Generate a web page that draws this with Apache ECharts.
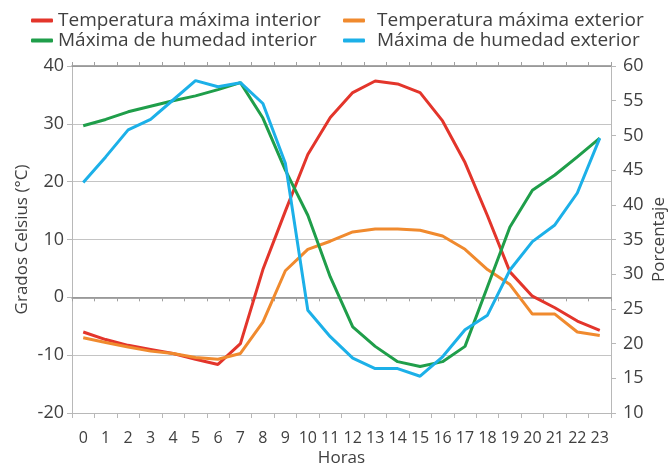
<!DOCTYPE html>
<html>
<head>
<meta charset="utf-8">
<script src="https://cdn.jsdelivr.net/npm/echarts@6/dist/echarts.min.js"></script>
<style>
html,body{margin:0;padding:0;background:#fff;}
#c{width:668px;height:465px;}
</style>
</head>
<body>
<div id="c"></div>
<script>
var hours = ['0','1','2','3','4','5','6','7','8','9','10','11','12','13','14','15','16','17','18','19','20','21','22','23'];
var leftTicks = [-20,-10,0,10,20,30,40];
var rightTicks = [10,15,20,25,30,35,40,45,50,55,60];
var tempInterior = [-6.0,-7.3,-8.3,-9.0,-9.7,-10.7,-11.6,-8.0,4.8,14.9,24.7,31.1,35.4,37.4,36.9,35.4,30.5,23.3,14.1,4.4,0.2,-1.8,-4.1,-5.7];
var tempExterior = [-7.0,-7.8,-8.6,-9.3,-9.7,-10.4,-10.7,-9.7,-4.3,4.6,8.3,9.7,11.3,11.8,11.8,11.6,10.6,8.3,4.8,2.2,-2.9,-2.9,-6.0,-6.6];
var humInterior = [51.4,52.3,53.4,54.2,55.0,55.7,56.6,57.6,52.5,45.0,38.5,29.6,22.4,19.6,17.4,16.7,17.4,19.6,28.2,36.8,42.1,44.3,46.9,49.6];
var humExterior = [43.2,46.9,50.8,52.3,55.1,57.9,57.0,57.6,54.6,46.0,24.8,21.0,17.9,16.4,16.4,15.3,18.1,22.0,24.1,30.6,34.7,37.1,41.7,49.6];
var names = ['Temperatura máxima interior','Temperatura máxima exterior','Máxima de humedad interior','Máxima de humedad exterior'];
var colors = ['#e3352b','#f08a2e','#1f9e4a','#1cb0e8'];

var font = "'Open Sans', sans-serif";
var txt = '#404040';
var chart = echarts.init(document.getElementById('c'));

function leg(i, left, top, pad){
  return {
    data:[names[i]], left:left, top:top, itemWidth:22, itemHeight:4, icon:'roundRect',
    textStyle:{fontFamily:font,fontSize:19,color:txt,padding:[0,0,0,pad]}, padding:0
  };
}

chart.setOption({
  animation:false,
  legend:[leg(0,31,11,0), leg(1,343,11,7), leg(2,31,31,0), leg(3,343,31,7)],
  grid:{left:72,right:57,top:66,bottom:52,containLabel:false,outerBoundsMode:'none'},
  xAxis:[
    {type:'category',data:hours,boundaryGap:true,position:'bottom',
     name:'Horas',nameLocation:'middle',nameGap:37,nameMoveOverlap:false,
     nameTextStyle:{fontFamily:font,fontSize:17,color:txt},
     axisLine:{onZero:false,lineStyle:{color:'#b8b8b8',width:1}},
     axisTick:{show:true,length:5,alignWithLabel:false,lineStyle:{color:'#b8b8b8'}},
     axisLabel:{fontFamily:font,fontSize:16,color:txt,margin:17,interval:0},
     splitLine:{show:false}},
    {type:'category',data:hours,boundaryGap:true,
     axisLine:{onZero:true,lineStyle:{color:'#8a8a8a',width:1.5}},
     axisTick:{show:true,length:4,inside:true,lineStyle:{color:'#a0a0a0'}},
     axisLabel:{show:false},splitLine:{show:false}},
    {type:'category',data:hours,boundaryGap:true,
     axisLine:{onZero:true,lineStyle:{color:'#8a8a8a',width:1.5}},
     axisTick:{show:true,length:4,inside:false,lineStyle:{color:'#a0a0a0'}},
     axisLabel:{show:false},splitLine:{show:false}}
  ],
  yAxis:[
    {type:'value',min:leftTicks[0],max:leftTicks[leftTicks.length-1],interval:10,position:'left',
     name:'Grados Celsius (°C)',nameLocation:'middle',nameRotate:90,nameGap:41,nameMoveOverlap:false,
     nameTextStyle:{fontFamily:font,fontSize:17,color:txt},
     axisLine:{show:true,lineStyle:{color:'#b8b8b8'}},
     axisTick:{show:true,length:5,lineStyle:{color:'#b8b8b8'}},
     axisLabel:{fontFamily:font,fontSize:18,color:txt,margin:8},
     splitLine:{show:true,lineStyle:{color:'#c4c4c4',width:1.2}}},
    {type:'value',min:rightTicks[0],max:rightTicks[rightTicks.length-1],interval:5,position:'right',
     name:'Porcentaje',nameLocation:'middle',nameRotate:90,nameGap:40,nameMoveOverlap:false,
     nameTextStyle:{fontFamily:font,fontSize:17,color:txt},
     axisLine:{show:true,lineStyle:{color:'#b8b8b8'}},
     axisTick:{show:true,length:5,lineStyle:{color:'#b8b8b8'}},
     axisLabel:{fontFamily:font,fontSize:18,color:txt,margin:12},
     splitLine:{show:false}}
  ],
  series:[
    {name:names[0],type:'line',yAxisIndex:0,data:tempInterior,symbol:'none',lineStyle:{width:3,color:colors[0]},itemStyle:{color:colors[0]}},
    {name:names[1],type:'line',yAxisIndex:0,data:tempExterior,symbol:'none',lineStyle:{width:3,color:colors[1]},itemStyle:{color:colors[1]}},
    {name:names[2],type:'line',yAxisIndex:1,data:humInterior,symbol:'none',lineStyle:{width:3,color:colors[2]},itemStyle:{color:colors[2]}},
    {name:names[3],type:'line',yAxisIndex:1,data:humExterior,symbol:'none',lineStyle:{width:3,color:colors[3]},itemStyle:{color:colors[3]}}
  ]
});
</script>
</body>
</html>
